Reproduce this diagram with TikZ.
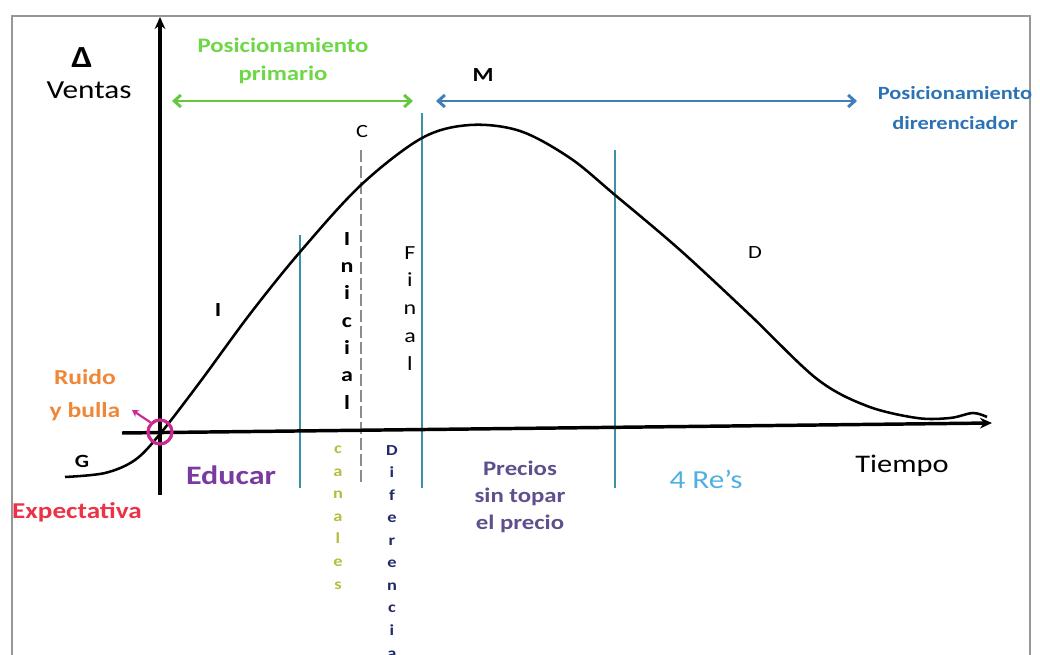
\documentclass[tikz,border=0pt]{standalone}
\usepackage{fontspec}
\setmainfont{Carlito}[FakeStretch=1.2]
\usetikzlibrary{arrows.meta}
\definecolor{framegray}{RGB}{150,150,150}
\definecolor{tealline}{RGB}{60,145,170}
\definecolor{dashgray}{RGB}{140,140,140}
\definecolor{posgreen}{RGB}{110,215,70}
\definecolor{arrgreen}{RGB}{100,200,60}
\definecolor{posblue}{RGB}{45,115,180}
\definecolor{arrblue}{RGB}{65,125,185}
\definecolor{ruidoorange}{RGB}{238,135,55}
\definecolor{pinkc}{RGB}{205,40,140}
\definecolor{expred}{RGB}{235,50,70}
\definecolor{educpurple}{RGB}{120,60,160}
\definecolor{canolive}{RGB}{180,190,60}
\definecolor{difnavy}{RGB}{35,40,105}
\definecolor{precpurple}{RGB}{95,80,140}
\definecolor{reslight}{RGB}{80,175,225}
\newcommand{\fsz}[1]{\fontsize{#1}{1.2\dimexpr#1pt\relax}\selectfont}
\tikzset{
  lbl/.style={inner sep=0pt, align=center},
  phaseline/.style={draw=tealline, line width=1.5pt},
  axisline/.style={draw=black, line width=2.6pt, -{Stealth[length=9pt,width=8pt]}},
  rangearrow/.style={line width=2.2pt, {Straight Barb[length=5pt,width=9pt]}-{Straight Barb[length=5pt,width=9pt]}},
  vstack/.style={inner sep=0pt, align=center, anchor=north}
}
\begin{document}
\begin{tikzpicture}[x=0.75pt,y=-0.75pt]
\useasboundingbox (0,0) rectangle (1040,655);
% frame
\draw[framegray, line width=1.6pt] (12,720) -- (12,16) -- (1030,16) -- (1030,720);

% phase lines
\draw[phaseline] (300,235) -- (300,488);
\draw[phaseline] (422,113) -- (422,488);
\draw[phaseline] (615,150) -- (615,488);
\draw[dashgray, line width=1.5pt, dash pattern=on 9pt off 3pt] (361,150) -- (361,482);

% axes
\coordinate (xs) at (122,433);
\coordinate (xe) at (992,423);
\coordinate (ys) at (160,495);
\coordinate (ye) at (160,17);
\draw[axisline] (xs) -- (xe);
\draw[axisline] (ys) -- (ye);

% curve
\draw[black, line width=1.9pt] plot[smooth, tension=0.55] coordinates {
 (65,477) (105,473) (135,460) (160,434) (200,382) (250,314) (300,252)
 (361,185) (422,138) (470,125) (520,131) (570,158) (615,195) (680,250)
 (750,315) (817,379) (867,406) (917,418) (950,418) (973,413) (987,417)};

% range arrows
\coordinate (ga) at (172,101);
\coordinate (gb) at (413,101);
\coordinate (ba) at (436,101);
\coordinate (bb) at (857,101);
\draw[rangearrow, arrgreen] (ga) -- (gb);
\draw[rangearrow, arrblue] (ba) -- (bb);

% origin circle and small arrow
\node[circle, draw=pinkc, line width=2.4pt, minimum size=18pt, inner sep=0pt] (orig) at (160,432) {};
\coordinate (ruidotip) at (132,410);
\draw[pinkc, line width=1.6pt, -{Stealth[length=5pt,width=6pt]}] (orig.north west) -- (ruidotip);

% labels
\node[lbl, font=\bfseries\fsz{23}] (delta) at (82,58) {Δ};
\node[lbl, font=\fsz{19.5}] (ventas) at (89,90) {Ventas};
\node[lbl, text=posgreen, font=\bfseries\fontsize{15.5}{21}\selectfont] (pprim) at (283,61) {Posicionamiento\\primario};
\node[lbl, font=\bfseries\fsz{15}] (M) at (483,75) {M};
\node[lbl, text=posblue, font=\bfseries\fontsize{14}{23}\selectfont] (pdif) at (955,108) {Posicionamiento\\direrenciador};
\node[lbl, font=\fsz{14}] (C) at (362,132) {C};
\node[lbl, font=\bfseries\fsz{15}] (I) at (218,310) {I};
\node[lbl, font=\fsz{14}] (D) at (755,253) {D};
\node[lbl, text=ruidoorange, font=\bfseries\fontsize{16}{25}\selectfont] (ruido) at (85,395) {Ruido\\y bulla};
\node[lbl, font=\bfseries\fsz{14}] (G) at (82,461) {G};
\node[lbl, text=expred, font=\bfseries\fsz{17}] (expect) at (77,512) {Expectativa};
\node[lbl, text=educpurple, font=\bfseries\fsz{20}] (educar) at (231,475) {Educar};
\node[lbl, text=precpurple, font=\bfseries\fontsize{15.5}{20}\selectfont] (precios) at (520,497) {Precios\\sin topar\\el precio};
\node[lbl, text=reslight, font=\fsz{19.5}] (res) at (706,479) {4 Re’s};
\node[lbl, font=\fsz{19}] (tiempo) at (902,466) {Tiempo};

% vertical stacks
\node[vstack, font=\bfseries\fontsize{15}{20.5}\selectfont] (inicial) at (347,232) {I\\n\\i\\c\\i\\a\\l};
\node[vstack, font=\fontsize{15}{20.8}\selectfont] (final) at (410,246) {F\\i\\n\\a\\l};
\node[vstack, text=canolive, font=\bfseries\fontsize{11.5}{16.9}\selectfont] (canales) at (338,446) {c\\a\\n\\a\\l\\e\\s};
\node[vstack, text=difnavy, font=\bfseries\fontsize{11.5}{16.9}\selectfont] (difer) at (392,445) {D\\i\\f\\e\\r\\e\\n\\c\\i\\a};
\end{tikzpicture}
\end{document}
